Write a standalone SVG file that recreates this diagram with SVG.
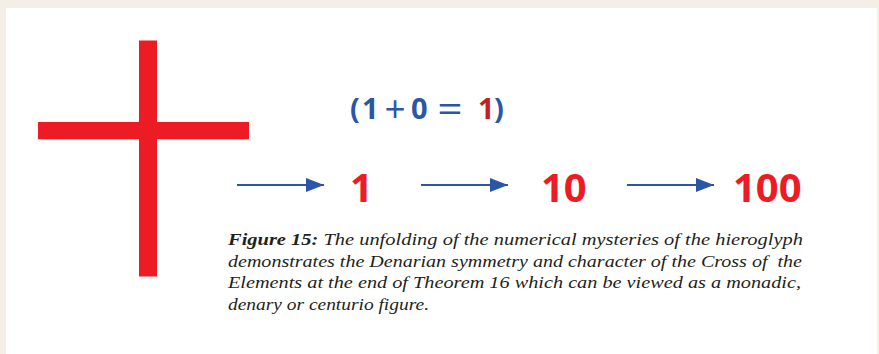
<svg xmlns="http://www.w3.org/2000/svg" width="879" height="354" viewBox="0 0 879 354">
<defs>
<style>
.num{font-family:"Open Sans","Liberation Sans",sans-serif;font-weight:bold;font-size:40px;fill:#ed1c24}
.f{font-family:"Open Sans","Liberation Sans",sans-serif;font-weight:bold;font-size:29px;fill:#2b55a5}
.op{font-family:"Open Sans","Liberation Sans",sans-serif;font-weight:normal;font-size:37px;fill:#2b55a5;text-anchor:middle}
.cap{font-family:"Liberation Serif",serif;font-style:italic;font-size:17px;fill:#231f20;white-space:pre}
.ln{stroke:#2b55a5;stroke-width:2;fill:none}
</style>
<marker id="ah" markerWidth="18" markerHeight="14" refX="18" refY="7" orient="auto" markerUnits="userSpaceOnUse">
<path d="M0,0 L18,7 L0,14 Z" fill="#2b55a5"/>
</marker>
</defs>
<rect width="879" height="354" fill="#f3efe7"/>
<rect x="6" y="8" width="871" height="346" fill="#ffffff"/>
<g id="cross" fill="#ed1c24">
<rect x="139" y="40.5" width="18" height="236"/>
<rect x="38" y="122" width="211" height="17.3"/>
</g>
<g id="formula">
<text class="f" x="350" y="118.5">(</text>
<text class="f" x="362" y="118.5">1</text>
<text class="op" x="395" y="122">+</text>
<text class="f" x="411" y="118.5">0</text>
<text class="op" transform="translate(450,122) scale(1.2,1)">=</text>
<text class="f" x="478" y="118.5" style="fill:#c41e26">1</text>
<text class="f" x="494" y="118.5">)</text>
</g>
<g id="n1"><text class="num" x="350" y="202">1</text></g>
<g id="n10"><text class="num" x="541" y="202">10</text></g>
<g id="n100"><text class="num" x="733" y="202">100</text></g>
<g id="connectors">
<line class="ln" x1="237" y1="185" x2="324" y2="185" marker-end="url(#ah)"/>
<line class="ln" x1="421" y1="185" x2="508" y2="185" marker-end="url(#ah)"/>
<line class="ln" x1="627" y1="185" x2="714" y2="185" marker-end="url(#ah)"/>
</g>
<g id="caption">
<text class="cap" x="228" y="245" textLength="575" lengthAdjust="spacingAndGlyphs"><tspan font-weight="bold">Figure 15:</tspan> The unfolding of the numerical mysteries of the hieroglyph</text>
<text class="cap" x="228" y="266.5" textLength="574" lengthAdjust="spacingAndGlyphs">demonstrates the Denarian symmetry and character of the Cross of  the</text>
<text class="cap" x="228" y="288" textLength="573" lengthAdjust="spacingAndGlyphs">Elements at the end of Theorem 16 which can be viewed as a monadic,</text>
<text class="cap" x="228" y="309.5" textLength="201" lengthAdjust="spacingAndGlyphs">denary or centurio figure.</text>
</g>
</svg>
